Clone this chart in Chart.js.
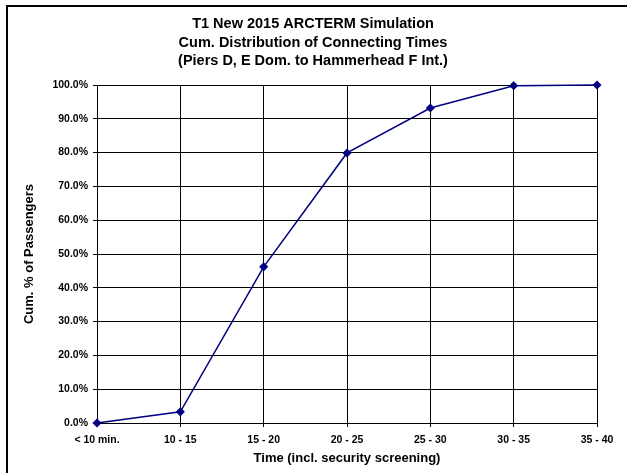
<!DOCTYPE html>
<html>
<head>
<meta charset="utf-8">
<script src="https://cdn.jsdelivr.net/npm/chart.js@4/dist/chart.umd.min.js"></script>
<style>
  html, body { margin: 0; padding: 0; background: #fff; }
  #wrap { position: relative; width: 627px; height: 473px; overflow: hidden; }
  #frame { position: absolute; left: 6px; top: 5px; width: 700px; height: 600px; border-left: 2px solid #000; border-top: 2px solid #000; box-sizing: border-box; pointer-events: none; }
  canvas { position: absolute; left: 0; top: 0; }
</style>
</head>
<body>
<div id="wrap">
  <canvas id="c" width="627" height="473"></canvas>
  <div id="frame"></div>
</div>
<script>
const titleLines = [
  "T1 New 2015 ARCTERM Simulation",
  "Cum. Distribution of Connecting Times",
  "(Piers D, E Dom. to Hammerhead F Int.)"
];
const categories = ["< 10 min.", "10 - 15", "15 - 20", "20 - 25", "25 - 30", "30 - 35", "35 - 40"];
const cumPercent = [0.0, 3.3, 46.2, 79.9, 93.2, 99.8, 100.0];
const xAxisTitle = "Time (incl. security screening)";
const yAxisTitle = "Cum. % of Passengers";

const FONT = "Arial, 'Liberation Sans', sans-serif";
const NAVY = "#000080";

const titlePlugin = {
  id: "multiTitle",
  afterDraw(chart) {
    const ctx = chart.ctx;
    ctx.save();
    ctx.fillStyle = "#000";
    ctx.font = "bold 14.5px " + FONT;
    ctx.textAlign = "center";
    ctx.textBaseline = "middle";
    titleLines.forEach((t, i) => ctx.fillText(t, 313, 24 + i * 18.5));
    ctx.restore();
  }
};

new Chart(document.getElementById("c"), {
  type: "line",
  data: {
    labels: categories,
    datasets: [{
      data: cumPercent,
      borderColor: NAVY,
      backgroundColor: NAVY,
      borderWidth: 1.5,
      tension: 0,
      pointStyle: "rectRot",
      pointRadius: 3.5,
      pointBackgroundColor: NAVY,
      pointBorderColor: NAVY,
      clip: false
    }]
  },
  plugins: [titlePlugin],
  options: {
    responsive: false,
    animation: false,
    layout: { padding: { left: 0, right: 30, top: 85, bottom: 0 } },
    plugins: {
      legend: { display: false },
      tooltip: { enabled: false },
      title: { display: false }
    },
    scales: {
      x: {
        type: "category",
        offset: false,
        grid: { color: "#000", lineWidth: 1, offset: false, drawTicks: true, tickLength: 4 },
        border: { color: "#000", width: 1 },
        ticks: { color: "#000", font: { family: FONT, size: 10.5, weight: "bold" }, padding: 7, maxRotation: 0, autoSkip: false },
        title: { display: true, text: xAxisTitle, color: "#000", font: { family: FONT, size: 13, weight: "bold" }, padding: { top: 0, bottom: 7 } },
        afterFit: (s) => { s.height = 50; }
      },
      y: {
        min: 0,
        max: 100,
        grid: { color: "#000", lineWidth: 1, drawTicks: true, tickLength: 4 },
        border: { color: "#000", width: 1 },
        ticks: {
          stepSize: 10,
          color: "#000",
          font: { family: FONT, size: 10.5, weight: "bold" },
          padding: 5,
          callback: (v) => v.toFixed(1) + "%"
        },
        title: { display: true, text: yAxisTitle, color: "#000", font: { family: FONT, size: 13, weight: "bold" }, padding: { top: 22, bottom: 0 } },
        afterFit: (s) => { s.width = 97; }
      }
    }
  }
});
</script>
</body>
</html>
